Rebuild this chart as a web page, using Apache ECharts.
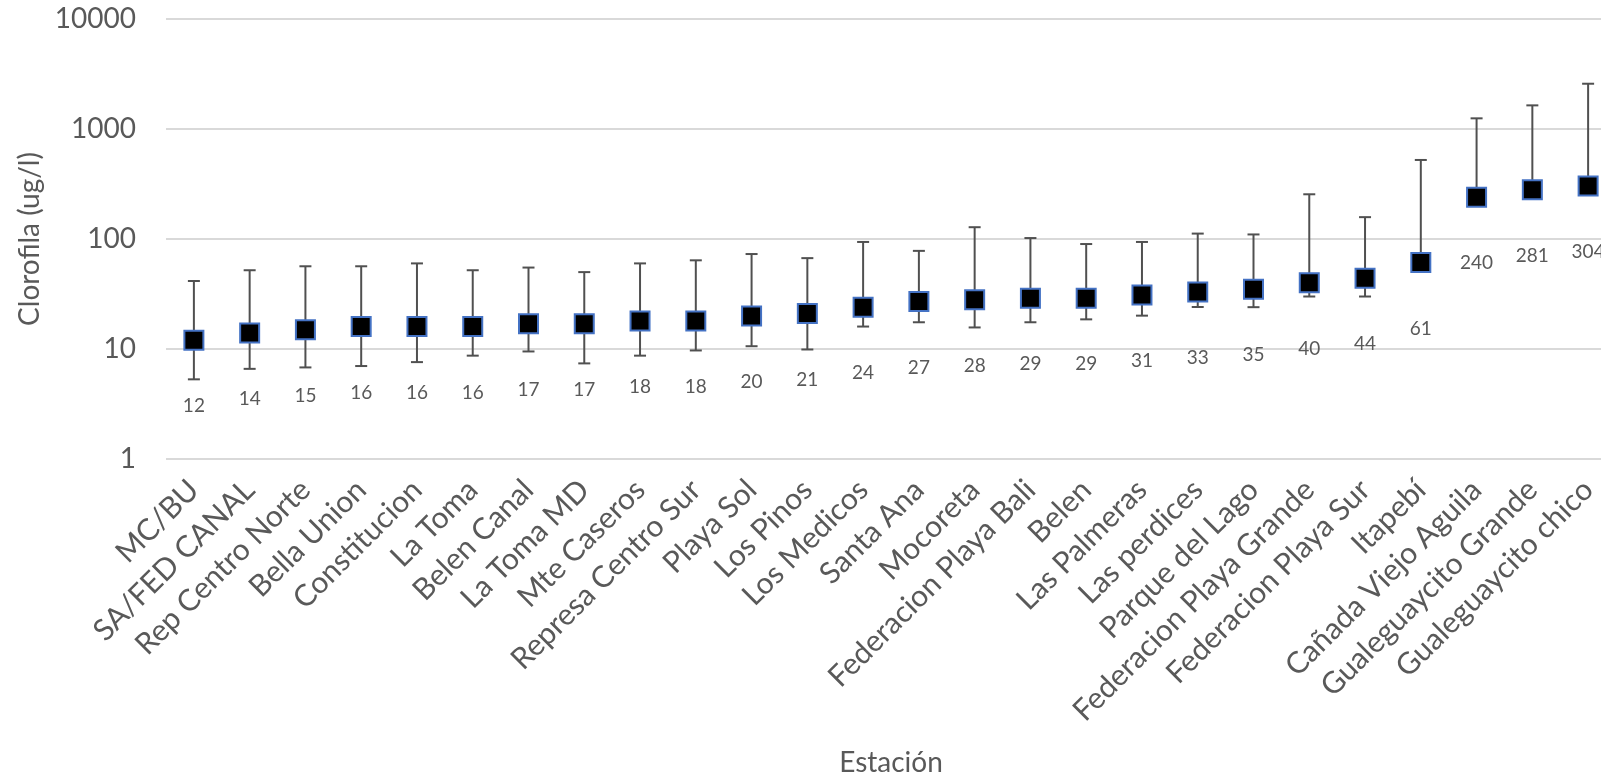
<!DOCTYPE html>
<html>
<head>
<meta charset="utf-8">
<script src="https://cdn.jsdelivr.net/npm/echarts@6/dist/echarts.min.js"></script>
<style>
html,body{margin:0;padding:0;background:#fff;}
#chart{width:1601px;height:779px;}
</style>
</head>
<body>
<div id="chart"></div>
<script>
const categories = ["MC/BU","SA/FED CANAL","Rep Centro Norte","Bella Union","Constitucion","La Toma","Belen Canal","La Toma MD","Mte Caseros","Represa Centro Sur","Playa Sol","Los Pinos","Los Medicos","Santa Ana","Mocoreta","Federacion Playa Bali","Belen","Las Palmeras","Las perdices","Parque del Lago","Federacion Playa Grande","Federacion Playa Sur","Itapebí","Cañada Viejo Aguila","Gualeguaycito Grande","Gualeguaycito chico"];
const means = [12,14,15,16,16,16,17,17,18,18,20,21,24,27,28,29,29,31,33,35,40,44,61,240,281,304];
const highs = [41.5,52,56.5,56.5,60,52,55,50,60,64,73,67,94,78,128,102,90,94,112,110,255,158,523,1250,1640,2580];
const lows = [5.3,6.6,6.8,7.0,7.6,8.7,9.5,7.4,8.7,9.7,10.6,9.9,16.0,17.5,15.7,17.5,18.6,20.1,24.1,24,30,30,61,240,281,304];
const yTicks = [1,10,100,1000,10000];

const FONT = 'Lato, "Open Sans", sans-serif';
const TXT = '#595959';

const errData = categories.map((c,i)=>[i, lows[i], highs[i]]);
const chart = echarts.init(document.getElementById('chart'), null, {renderer:'canvas'});
chart.setOption({
  animation:false,
  backgroundColor:'#fff',
  grid:{left:166, top:19, width:1450, height:440, containLabel:false, outerBoundsMode:'none'},
  xAxis:{
    type:'category', data:categories, boundaryGap:true,
    axisLine:{show:false}, axisTick:{show:false},
    axisLabel:{interval:0, rotate:45, margin:26, fontSize:30, color:TXT, fontFamily:FONT},
    name:'Estación', nameLocation:'middle', nameGap:290,
    nameTextStyle:{fontSize:28, color:TXT, fontFamily:FONT}
  },
  yAxis:{
    type:'log', logBase:10, min:yTicks[0], max:yTicks[yTicks.length-1],
    axisLine:{show:false}, axisTick:{show:false},
    splitLine:{show:true, lineStyle:{color:'#d9d9d9', width:2}},
    axisLabel:{margin:30, fontSize:28, color:TXT, fontFamily:FONT,
      formatter:function(v){ return String(Math.round(v)); }},
    name:'Clorofila (ug/l)', nameLocation:'middle', nameRotate:90, nameGap:112,
    nameTextStyle:{fontSize:28, color:TXT, fontFamily:FONT}
  },
  series:[
    {
      type:'custom', data:errData, z:2,
      encode:{x:0, y:[1,2]},
      renderItem:function(params, api){
        const x = api.value(0);
        const lo = api.coord([x, api.value(1)]);
        const hi = api.coord([x, api.value(2)]);
        const hw = 6;
        const st = {stroke:'#505050', lineWidth:2};
        return {type:'group', children:[
          {type:'line', shape:{x1:lo[0], y1:lo[1], x2:hi[0], y2:hi[1]}, style:st},
          {type:'line', shape:{x1:hi[0]-hw, y1:hi[1], x2:hi[0]+hw, y2:hi[1]}, style:st},
          {type:'line', shape:{x1:lo[0]-hw, y1:lo[1], x2:lo[0]+hw, y2:lo[1]}, style:st}
        ]};
      }
    },
    {
      type:'scatter', data:means, z:5,
      symbol:'rect', symbolSize:19,
      itemStyle:{color:'#000', borderColor:'#4472C4', borderWidth:2, opacity:1},
      label:{show:true, position:'inside', offset:[0,66], fontSize:19, color:TXT, fontFamily:FONT}
    }
  ]
});
</script>
</body>
</html>
